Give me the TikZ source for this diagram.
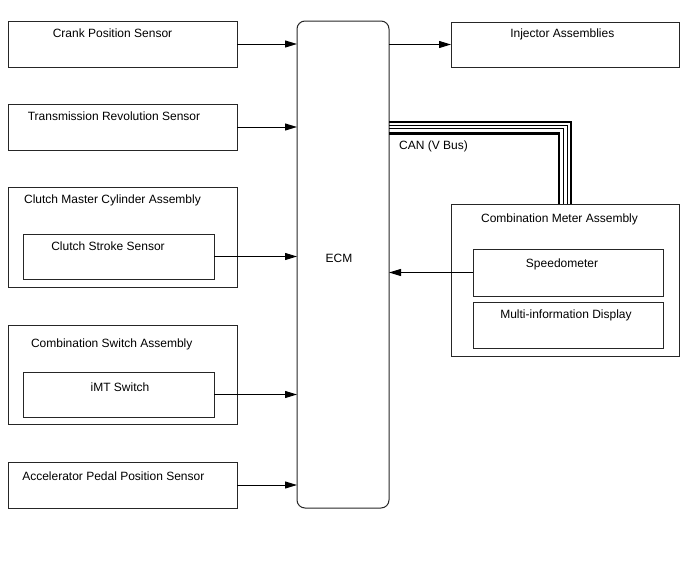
\documentclass[tikz,border=0pt]{standalone}
\usepackage{fontspec}
\setmainfont{Liberation Sans}
\usetikzlibrary{arrows.meta,calc}
\begin{document}
\begin{tikzpicture}[x=1pt,y=-1pt,
  box/.style={draw=black!85,line width=1pt,rectangle,inner sep=0pt,outer sep=0pt},
  lbl/.style={anchor=base,inner sep=0pt,font=\fontsize{12}{14}\selectfont},
  arr/.style={draw=black,line width=1pt,-{Triangle[length=12pt,width=7pt]}},
  canthick/.style={draw=black,line width=2.2pt},
  canthin/.style={draw=black,line width=0.9pt}]
\useasboundingbox (0,0) rectangle (688,560);
% ECM
\node[box,rounded corners=8pt,minimum width=92,minimum height=487] (ecm) at (343,264.5) {};
\node[lbl] (ecmt) at (339,262) {ECM};
% left column
\node[box,minimum width=229,minimum height=46] (crank) at (122.5,44) {};
\node[lbl] (crankt) at (112.5,37) {Crank Position Sensor};
\node[box,minimum width=229,minimum height=46] (trans) at (122.5,127) {};
\node[lbl] (transt) at (114,120) {Transmission Revolution Sensor};
\node[box,minimum width=229,minimum height=100] (cmc) at (122.5,237) {};
\node[lbl] (cmct) at (112.5,203.5) {Clutch Master Cylinder Assembly};
\node[box,minimum width=191,minimum height=45] (css) at (118.5,256.5) {};
\node[lbl] (csst) at (108,250) {Clutch Stroke Sensor};
\node[box,minimum width=229,minimum height=99] (csw) at (122.5,374.5) {};
\node[lbl] (cswt) at (111.7,347) {Combination Switch Assembly};
\node[box,minimum width=191,minimum height=45] (imt) at (118.5,394.5) {};
\node[lbl] (imtt) at (120,391) {iMT Switch};
\node[box,minimum width=229,minimum height=46] (acc) at (122.5,485) {};
\node[lbl] (acct) at (113.3,480) {Accelerator Pedal Position Sensor};
% right column
\node[box,minimum width=228,minimum height=45] (inj) at (565,44.5) {};
\node[lbl] (injt) at (562.3,37) {Injector Assemblies};
\node[box,minimum width=228,minimum height=152] (cma) at (565,280) {};
\node[lbl] (cmat) at (559.5,222) {Combination Meter Assembly};
\node[box,minimum width=190,minimum height=47] (spd) at (568,272.5) {};
\node[lbl] (spdt) at (562,267) {Speedometer};
\node[box,minimum width=190,minimum height=46] (mid) at (568,325) {};
\node[lbl] (midt) at (566,318) {Multi-information Display};
% arrows
\draw[arr] (crank.east) -- (crank.east -| ecm.west);
\draw[arr] (trans.east) -- (trans.east -| ecm.west);
\draw[arr] (css.east) -- (css.east -| ecm.west);
\draw[arr] (imt.east) -- (imt.east -| ecm.west);
\draw[arr] (acc.east) -- (acc.east -| ecm.west);
\draw[arr] (ecm.east |- inj.west) -- (inj.west);
\draw[arr] (spd.west) -- (spd.west -| ecm.east);
% CAN bus
\coordinate (c1) at (571,121.8);
\coordinate (c2) at (567,125);
\coordinate (c3) at (563.7,128.3);
\coordinate (c4) at (559.3,133.5);
\draw[canthick] (ecm.east |- c1) -| (c1 |- cma.north);
\draw[canthin] (ecm.east |- c2) -| (c2 |- cma.north);
\draw[canthin] (ecm.east |- c3) -| (c3 |- cma.north);
\draw[canthick] (ecm.east |- c4) -| (c4 |- cma.north);
\node[lbl,anchor=base west] (cant) at (399,149) {CAN (V Bus)};
\end{tikzpicture}
\end{document}
